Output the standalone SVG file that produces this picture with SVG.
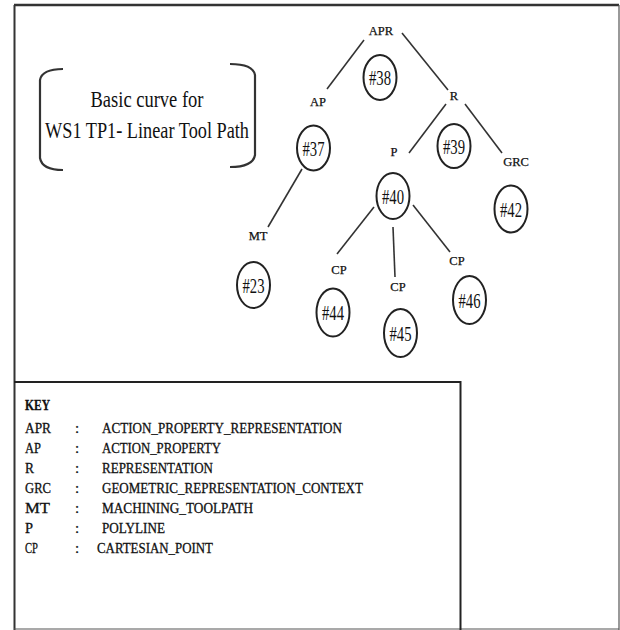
<svg xmlns="http://www.w3.org/2000/svg" width="620" height="630" viewBox="0 0 620 630">
<style>
.frame{fill:none;stroke:#333;}
.br{fill:none;stroke:#333;stroke-width:2.2;}
.conn line{stroke:#333;stroke-width:1.6;}
.node ellipse{fill:#fff;stroke:#222;stroke-width:2;}
.num{font-family:"Liberation Serif","Times New Roman",serif;font-size:22px;fill:#111;text-anchor:middle;}
.lbl{font-family:"Liberation Serif","Times New Roman",serif;font-size:12.5px;fill:#111;text-anchor:middle;stroke:#111;stroke-width:0.25;}
.title{font-family:"Liberation Serif","Times New Roman",serif;font-size:24px;fill:#111;text-anchor:middle;}
.key{font-family:"Liberation Serif","Times New Roman",serif;font-size:15px;fill:#111;stroke:#111;stroke-width:0.3;}
</style>
<rect width="620" height="630" fill="#fff"/>
<!-- outer frame -->
<line x1="14" y1="5" x2="619" y2="5" stroke="#333" stroke-width="2.5"/>
<line x1="14.5" y1="5" x2="14.5" y2="630" stroke="#333" stroke-width="2"/>
<line x1="619" y1="5" x2="619" y2="630" stroke="#555" stroke-width="1.2"/>
<line x1="14" y1="629" x2="619" y2="629" stroke="#555" stroke-width="1.2"/>
<!-- title with brackets -->
<g id="title">
<path class="br" d="M63,69 Q42,69 40,80 L40,158 Q42,170 63,170"/>
<path class="br" d="M230,64 Q253,64 255,75 L255,155 Q253,167 230,167"/>
<text class="title" x="147" y="107" textLength="113" lengthAdjust="spacingAndGlyphs">Basic curve for</text>
<text class="title" x="147" y="138" textLength="204" lengthAdjust="spacingAndGlyphs">WS1 TP1- Linear Tool Path</text>
</g>
<!-- connectors -->
<g id="connectors" class="conn">
<line x1="364" y1="40" x2="327" y2="89"/>
<line x1="402" y1="33" x2="448" y2="90"/>
<line x1="446" y1="104" x2="409" y2="153"/>
<line x1="465" y1="104" x2="502" y2="153"/>
<line x1="302" y1="169" x2="268" y2="227"/>
<line x1="374" y1="207" x2="337" y2="254"/>
<line x1="393" y1="227" x2="395" y2="277"/>
<line x1="413" y1="205" x2="450" y2="252"/>
</g>
<!-- labels -->
<g id="labels">
<text class="lbl" x="381" y="35">APR</text>
<text class="lbl" x="318" y="106">AP</text>
<text class="lbl" x="454" y="100">R</text>
<text class="lbl" x="394" y="156">P</text>
<text class="lbl" x="516" y="166">GRC</text>
<text class="lbl" x="258" y="240">MT</text>
<text class="lbl" x="339" y="274">CP</text>
<text class="lbl" x="398" y="291">CP</text>
<text class="lbl" x="457" y="265">CP</text>
</g>
<!-- nodes -->
<g id="n38" class="node"><ellipse cx="380" cy="77.5" rx="16.5" ry="22.5"/><text class="num" x="380" y="85" textLength="22" lengthAdjust="spacingAndGlyphs">#38</text></g>
<g id="n37" class="node"><ellipse cx="313.5" cy="148" rx="16.5" ry="22.5"/><text class="num" x="313.5" y="155.5" textLength="22" lengthAdjust="spacingAndGlyphs">#37</text></g>
<g id="n39" class="node"><ellipse cx="454" cy="146" rx="16.5" ry="22"/><text class="num" x="454" y="153.5" textLength="22" lengthAdjust="spacingAndGlyphs">#39</text></g>
<g id="n40" class="node"><ellipse cx="393" cy="196" rx="16.5" ry="23"/><text class="num" x="393" y="203.5" textLength="22" lengthAdjust="spacingAndGlyphs">#40</text></g>
<g id="n42" class="node"><ellipse cx="511" cy="209" rx="16.5" ry="23.5"/><text class="num" x="511" y="216.5" textLength="22" lengthAdjust="spacingAndGlyphs">#42</text></g>
<g id="n23" class="node"><ellipse cx="253.5" cy="285" rx="16.5" ry="23"/><text class="num" x="253.5" y="292.5" textLength="22" lengthAdjust="spacingAndGlyphs">#23</text></g>
<g id="n44" class="node"><ellipse cx="333" cy="312.5" rx="16.5" ry="24"/><text class="num" x="333" y="320" textLength="22" lengthAdjust="spacingAndGlyphs">#44</text></g>
<g id="n45" class="node"><ellipse cx="400.5" cy="333" rx="16.5" ry="24"/><text class="num" x="400.5" y="340.5" textLength="22" lengthAdjust="spacingAndGlyphs">#45</text></g>
<g id="n46" class="node"><ellipse cx="469.5" cy="300" rx="16.5" ry="24"/><text class="num" x="469.5" y="307.5" textLength="22" lengthAdjust="spacingAndGlyphs">#46</text></g>
<!-- key box -->
<g id="key">
<line x1="14" y1="382" x2="461" y2="382" stroke="#222" stroke-width="2"/>
<line x1="460.5" y1="381" x2="460.5" y2="630" stroke="#222" stroke-width="2"/>
<text class="key" x="25" y="410" textLength="25" lengthAdjust="spacingAndGlyphs" font-weight="bold">KEY</text>
<text class="key" x="25" y="433" textLength="26" lengthAdjust="spacingAndGlyphs">APR</text>
<text class="key" x="75" y="433">:</text>
<text class="key" x="102" y="433" textLength="240" lengthAdjust="spacingAndGlyphs">ACTION_PROPERTY_REPRESENTATION</text>
<text class="key" x="25" y="453" textLength="16" lengthAdjust="spacingAndGlyphs">AP</text>
<text class="key" x="75" y="453">:</text>
<text class="key" x="102" y="453" textLength="119" lengthAdjust="spacingAndGlyphs">ACTION_PROPERTY</text>
<text class="key" x="25" y="473" textLength="9" lengthAdjust="spacingAndGlyphs">R</text>
<text class="key" x="75" y="473">:</text>
<text class="key" x="102" y="473" textLength="111" lengthAdjust="spacingAndGlyphs">REPRESENTATION</text>
<text class="key" x="25" y="493" textLength="26" lengthAdjust="spacingAndGlyphs">GRC</text>
<text class="key" x="75" y="493">:</text>
<text class="key" x="102" y="493" textLength="261" lengthAdjust="spacingAndGlyphs">GEOMETRIC_REPRESENTATION_CONTEXT</text>
<text class="key" x="25" y="513" textLength="25" lengthAdjust="spacingAndGlyphs">MT</text>
<text class="key" x="75" y="513">:</text>
<text class="key" x="102" y="513" textLength="151" lengthAdjust="spacingAndGlyphs">MACHINING_TOOLPATH</text>
<text class="key" x="25" y="533" textLength="8" lengthAdjust="spacingAndGlyphs">P</text>
<text class="key" x="75" y="533">:</text>
<text class="key" x="102" y="533" textLength="63" lengthAdjust="spacingAndGlyphs">POLYLINE</text>
<text class="key" x="25" y="553" textLength="13" lengthAdjust="spacingAndGlyphs">CP</text>
<text class="key" x="75" y="553">:</text>
<text class="key" x="97" y="553" textLength="116" lengthAdjust="spacingAndGlyphs">CARTESIAN_POINT</text>
</g>
</svg>
